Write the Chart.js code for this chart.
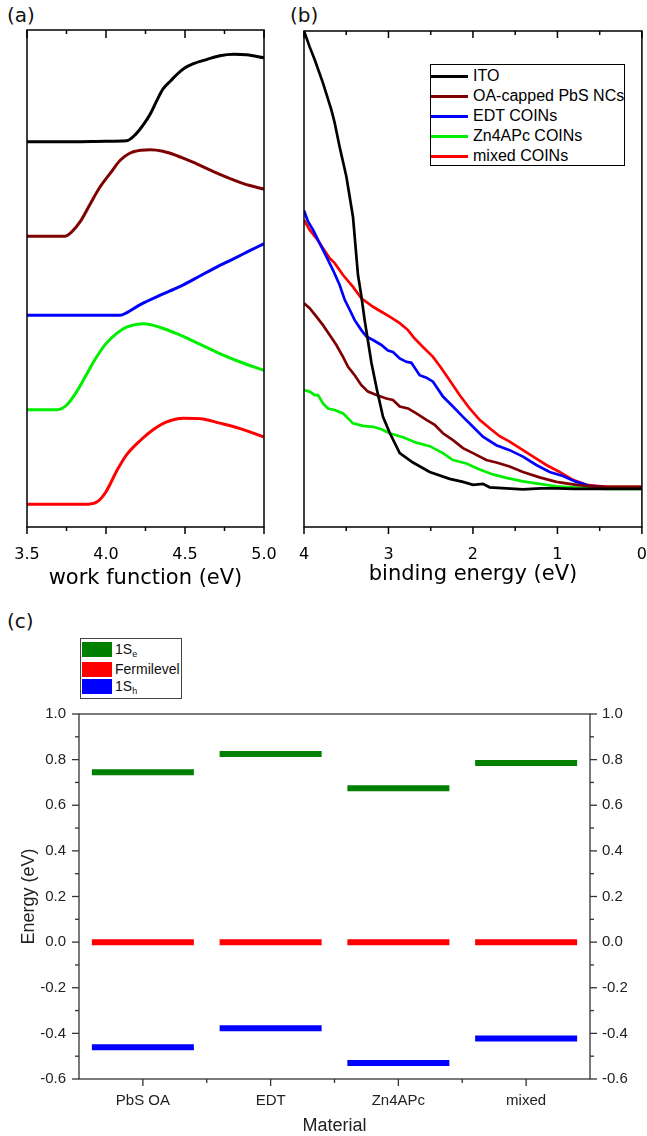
<!DOCTYPE html>
<html><head><meta charset="utf-8">
<script src="https://cdn.jsdelivr.net/npm/chart.js@4.4.1/dist/chart.umd.min.js"></script>
<style>
html,body{margin:0;padding:0;background:#fff}
body{width:647px;height:1136px;position:relative;overflow:hidden;font-family:"Liberation Sans",Arial,sans-serif}
canvas{position:absolute}
.plabel{position:absolute;font-family:"DejaVu Sans";font-size:20px;line-height:20px;color:#111}
#legB{position:absolute;left:430px;top:64px;width:193px;height:100px;border:1.3px solid #000;background:#fff}
#legB .row{position:absolute;left:0;height:20px;width:100%}
#legB .ln{position:absolute;left:0;top:9px;width:37px;height:3px}
#legB .tx{position:absolute;left:42px;top:0;font-size:16px;line-height:20px;color:#000;white-space:nowrap}
#legC{position:absolute;left:80px;top:638px;width:100px;height:59px;border:1px solid #444;background:#fff}
#legC .row{position:absolute;left:0;height:16px;width:100%}
#legC .sw{position:absolute;left:1px;top:0;width:30px;height:15px}
#legC .tx{position:absolute;left:34px;top:-1px;font-size:14px;line-height:16px;color:#111;white-space:nowrap}
#legC sub{font-size:9px;vertical-align:-3px;line-height:0}
</style></head>
<body>
<div class="plabel" style="left:7px;top:5px">(a)</div>
<div class="plabel" style="left:290px;top:5px">(b)</div>
<div class="plabel" style="left:7px;top:611px">(c)</div>
<canvas id="ca" width="290" height="592" style="left:0;top:0"></canvas>
<canvas id="cb" width="357" height="592" style="left:290px;top:0"></canvas>
<canvas id="cc" width="647" height="536" style="left:0;top:600px"></canvas>
<div id="legB"></div>
<div id="legC"></div>
<script>
// ---------- shared sample names / colours ----------
const sampleNames = ['ITO', 'OA-capped PbS NCs', 'EDT COINs', 'Zn4APc COINs', 'mixed COINs'];
const sampleColors = ['#000000', '#7f0000', '#0000ff', '#00ee00', '#ff0000'];

// ---------- panel (a): work function (offset curves, arb. units) ----------
const wfTicks = [3.5, 4.0, 4.5, 5.0];
const wfMinor = [3.75, 4.25, 4.75];
const wfITO_x = [3.5, 3.8, 4.0, 4.13, 4.19, 4.24, 4.28, 4.32, 4.36, 4.41, 4.45, 4.5, 4.55, 4.64, 4.72, 4.81, 4.89, 5.0];
const wfITO_y = [77.5, 77.5, 77.6, 77.7, 79.1, 81.1, 83.1, 85.7, 88.1, 89.8, 91.1, 92.4, 93.2, 94.1, 94.8, 95.1, 95.0, 94.4];
const wfOA_x = [3.5, 3.74, 3.78, 3.84, 3.9, 3.96, 4.03, 4.09, 4.15, 4.22, 4.28, 4.36, 4.45, 4.55, 4.68, 4.81, 4.91, 5.0];
const wfOA_y = [58.5, 58.5, 59.3, 61.6, 65.0, 68.3, 71.3, 73.8, 75.2, 75.8, 75.9, 75.6, 74.7, 73.4, 71.5, 69.8, 68.7, 68.0];
const wfEDT_x = [3.5, 4.09, 4.13, 4.22, 4.34, 4.47, 4.6, 4.7, 4.81, 4.91, 5.0];
const wfEDT_y = [42.6, 42.6, 43.1, 44.8, 46.6, 48.4, 50.6, 52.3, 54.0, 55.6, 57.0];
const wfZn_x = [3.5, 3.69, 3.75, 3.82, 3.88, 3.94, 4.0, 4.07, 4.13, 4.24, 4.34, 4.47, 4.6, 4.72, 4.85, 5.0];
const wfZn_y = [23.6, 23.6, 24.5, 27.5, 30.9, 34.2, 36.9, 39.0, 40.2, 40.9, 40.2, 38.6, 36.7, 34.9, 33.2, 31.5];
const wfMix_x = [3.5, 3.89, 3.95, 4.0, 4.07, 4.13, 4.22, 4.3, 4.38, 4.49, 4.6, 4.72, 4.85, 5.0];
const wfMix_y = [4.6, 4.6, 5.2, 7.1, 11.4, 14.5, 17.5, 19.6, 21.1, 21.9, 21.8, 20.9, 19.8, 18.1];

// ---------- panel (b): binding energy (arb. units) ----------
const beTicks = [4, 3, 2, 1, 0];
const beMinor = [3.5, 2.5, 1.5, 0.5];
const beITO_x = [4.0, 3.933, 3.873, 3.775, 3.676, 3.637, 3.578, 3.498, 3.42, 3.361, 3.323, 3.282, 3.202, 3.136, 3.065, 2.986, 2.867, 2.71, 2.512, 2.276, 2.118, 2.0, 1.94, 1.882, 1.802, 1.605, 1.408, 1.2, 1.009, 0.8, 0.619, 0.3, 0.0];
const beITO_y = [100, 96.8, 94.2, 89.5, 84.1, 81.5, 76.6, 70.6, 62.5, 50.8, 46.8, 41.7, 33.1, 27.6, 22.2, 19.0, 14.9, 13.0, 11.1, 9.7, 9.1, 8.5, 8.6, 8.7, 8.0, 7.8, 7.6, 7.8, 7.8, 7.7, 7.7, 7.7, 7.7];
const beOA_x = [4.0, 3.933, 3.853, 3.775, 3.696, 3.617, 3.538, 3.479, 3.4, 3.321, 3.243, 3.143, 3.025, 2.947, 2.867, 2.769, 2.67, 2.551, 2.453, 2.355, 2.237, 2.118, 2.0, 1.842, 1.723, 1.566, 1.408, 1.211, 1.013, 0.776, 0.54, 0.0];
const beOA_y = [45.1, 44.1, 42.4, 40.7, 38.7, 36.7, 34.3, 32.3, 30.6, 28.6, 27.3, 26.6, 25.9, 25.6, 24.3, 23.9, 22.9, 21.6, 20.6, 18.9, 17.5, 15.9, 14.9, 13.5, 13.0, 12.2, 11.1, 10.0, 9.1, 8.5, 8.1, 8.1];
const beEDT_x = [4.0, 3.953, 3.893, 3.814, 3.735, 3.657, 3.578, 3.518, 3.459, 3.4, 3.321, 3.262, 3.163, 3.084, 3.006, 2.947, 2.867, 2.788, 2.729, 2.631, 2.551, 2.473, 2.355, 2.237, 2.118, 2.0, 1.882, 1.723, 1.566, 1.408, 1.25, 1.092, 0.935, 0.776, 0.619, 0.421, 0.0];
const beEDT_y = [63.8, 61.6, 59.9, 57.2, 54.5, 51.8, 48.8, 45.8, 43.8, 41.7, 39.7, 38.4, 37.5, 36.7, 35.6, 35.3, 34.0, 33.3, 33.1, 30.6, 30.1, 29.3, 26.3, 24.3, 22.2, 20.2, 18.2, 16.5, 15.5, 14.2, 12.5, 11.1, 10.3, 9.1, 8.3, 8.0, 7.9];
const beZn_x = [4.0, 3.933, 3.873, 3.834, 3.775, 3.716, 3.637, 3.538, 3.42, 3.302, 3.183, 3.084, 2.986, 2.828, 2.67, 2.512, 2.355, 2.237, 2.078, 1.921, 1.763, 1.605, 1.408, 1.211, 1.013, 0.737, 0.421, 0.0];
const beZn_y = [27.6, 27.3, 26.6, 26.6, 24.9, 23.9, 23.6, 22.9, 20.9, 20.4, 20.2, 19.7, 18.9, 18.1, 17.0, 16.3, 14.9, 13.5, 12.8, 11.6, 10.6, 9.9, 9.2, 8.7, 8.2, 7.9, 7.7, 7.7];
const beMix_x = [4.0, 3.933, 3.853, 3.775, 3.696, 3.637, 3.538, 3.42, 3.321, 3.183, 3.084, 2.986, 2.867, 2.769, 2.69, 2.592, 2.473, 2.374, 2.276, 2.158, 2.039, 1.921, 1.802, 1.684, 1.566, 1.408, 1.25, 1.131, 0.974, 0.817, 0.658, 0.421, 0.0];
const beMix_y = [61.9, 59.9, 58.2, 56.2, 54.2, 53.2, 50.8, 48.4, 46.1, 44.4, 43.4, 42.4, 41.1, 39.7, 38.0, 36.3, 34.3, 32.0, 29.6, 26.6, 23.9, 21.6, 19.9, 18.3, 17.2, 15.5, 13.8, 12.5, 11.1, 9.5, 8.5, 8.1, 8.1];

// ---------- panel (c): energy levels ----------
const materials = ['PbS OA', 'EDT', 'Zn4APc', 'mixed'];
const level1Se = [0.745, 0.825, 0.675, 0.785];
const levelFermi = [0.0, 0.0, 0.0, 0.0];
const level1Sh = [-0.461, -0.378, -0.530, -0.422];
const levelNames = ['1S', 'Fermilevel', '1S'];
const levelSubs = ['e', '', 'h'];
const levelColors = ['#008000', '#ff0000', '#0000ff'];
const energyTicks = [-0.6, -0.4, -0.2, 0.0, 0.2, 0.4, 0.6, 0.8, 1.0];
const energyMinor = [-0.5, -0.3, -0.1, 0.1, 0.3, 0.5, 0.7, 0.9];
const materialMinor = [0.5, 1.5, 2.5];

// ---------- helpers ----------
function pts(xs, ys) { return xs.map((x, i) => ({x: x, y: ys[i]})); }

const frameTicks = {
  id: 'frameTicks',
  afterDraw(chart, args, opts) {
    const ctx = chart.ctx, a = chart.chartArea;
    ctx.save();
    ctx.strokeStyle = opts.color || '#000';
    ctx.lineWidth = opts.width || 1.5;
    ctx.lineCap = 'butt';
    ctx.strokeRect(a.left, a.top, a.right - a.left, a.bottom - a.top);
    (opts.specs || []).forEach(sp => {
      const sc = chart.scales[sp.scale];
      const draw = (v, len) => {
        const p = sc.getPixelForValue(v);
        ctx.beginPath();
        if (sp.side === 'bottom') { ctx.moveTo(p, a.bottom); ctx.lineTo(p, a.bottom + (sp.dir === 'out' ? len : -len)); }
        if (sp.side === 'top') { ctx.moveTo(p, a.top); ctx.lineTo(p, a.top + (sp.dir === 'out' ? -len : len)); }
        if (sp.side === 'left') { ctx.moveTo(a.left, p); ctx.lineTo(a.left + (sp.dir === 'out' ? -len : len), p); }
        if (sp.side === 'right') { ctx.moveTo(a.right, p); ctx.lineTo(a.right + (sp.dir === 'out' ? len : -len), p); }
        ctx.stroke();
      };
      sp.major.forEach(v => draw(v, sp.majorLen));
      sp.minor.forEach(v => draw(v, sp.minorLen));
    });
    ctx.restore();
  }
};

const dv = 'DejaVu Sans';
const lib = 'Liberation Sans';
// hidden grid; tickLength only used as label offset (real ticks drawn by frameTicks)
const hiddenGrid = len => ({display: false, drawTicks: true, tickLength: len});

// ---------- chart (a) ----------
const wfXs = [wfITO_x, wfOA_x, wfEDT_x, wfZn_x, wfMix_x];
const wfYs = [wfITO_y, wfOA_y, wfEDT_y, wfZn_y, wfMix_y];
new Chart(document.getElementById('ca'), {
  type: 'line',
  data: {datasets: sampleNames.map((n, i) => ({
    label: n, data: pts(wfXs[i], wfYs[i]), borderColor: sampleColors[i], borderWidth: 3,
    pointRadius: 0, cubicInterpolationMode: 'monotone', fill: false
  }))},
  options: {
    responsive: false, animation: false, devicePixelRatio: 1,
    layout: {padding: {left: 27, right: 26, top: 30, bottom: 0}},
    plugins: {legend: {display: false}, tooltip: {enabled: false},
      frameTicks: {color: '#000', width: 1.5, specs: [
        {scale: 'x', side: 'bottom', dir: 'out', major: wfTicks, minor: wfMinor, majorLen: 7, minorLen: 4},
        {scale: 'x', side: 'top', dir: 'in', major: wfTicks, minor: wfMinor, majorLen: 8, minorLen: 4}
      ]}},
    scales: {
      x: {type: 'linear', min: 3.5, max: 5.0,
        afterBuildTicks: s => { s.ticks = wfTicks.map(v => ({value: v})); },
        afterFit: s => { s.height = 65; },
        grid: hiddenGrid(18), border: {display: false},
        ticks: {font: {family: dv, size: 16}, color: '#000', padding: 0, maxRotation: 0, autoSkip: false,
          callback: v => Number(v).toFixed(1)},
        title: {display: true, text: 'work function (eV)', font: {family: dv, size: 21}, color: '#000', padding: {top: 0, bottom: 1}}
      },
      y: {display: false, min: 0, max: 100}
    }
  },
  plugins: [frameTicks]
});

// ---------- chart (b) ----------
const beXs = [beITO_x, beOA_x, beEDT_x, beZn_x, beMix_x];
const beYs = [beITO_y, beOA_y, beEDT_y, beZn_y, beMix_y];
new Chart(document.getElementById('cb'), {
  type: 'line',
  data: {datasets: sampleNames.map((n, i) => ({
    label: n, data: pts(beXs[i], beYs[i]), borderColor: sampleColors[i], borderWidth: 2.7,
    pointRadius: 0, tension: 0, fill: false
  }))},
  options: {
    responsive: false, animation: false, devicePixelRatio: 1,
    layout: {padding: {left: 14, right: 5, top: 31, bottom: 0}},
    plugins: {legend: {display: false}, tooltip: {enabled: false},
      frameTicks: {color: '#000', width: 1.5, specs: [
        {scale: 'x', side: 'bottom', dir: 'out', major: beTicks, minor: beMinor, majorLen: 7, minorLen: 4},
        {scale: 'x', side: 'top', dir: 'in', major: beTicks, minor: beMinor, majorLen: 7, minorLen: 4}
      ]}},
    scales: {
      x: {type: 'linear', min: 0, max: 4, reverse: true,
        afterBuildTicks: s => { s.ticks = beTicks.map(v => ({value: v})); },
        afterFit: s => { s.height = 65; },
        grid: hiddenGrid(18), border: {display: false},
        ticks: {font: {family: dv, size: 16}, color: '#000', padding: 0, maxRotation: 0, autoSkip: false,
          callback: v => String(v)},
        title: {display: true, text: 'binding energy (eV)', font: {family: dv, size: 21}, color: '#000', padding: {top: 0, bottom: 5}}
      },
      y: {display: false, min: 0, max: 100}
    }
  },
  plugins: [frameTicks]
});

// legend (b)
const legB = document.getElementById('legB');
sampleNames.forEach((n, i) => {
  const r = document.createElement('div'); r.className = 'row'; r.style.top = (1 + i * 20) + 'px';
  const l = document.createElement('div'); l.className = 'ln'; l.style.background = sampleColors[i];
  const t = document.createElement('div'); t.className = 'tx'; t.textContent = n;
  r.appendChild(l); r.appendChild(t); legB.appendChild(r);
});

// ---------- chart (c) ----------
const levelSets = [level1Se, levelFermi, level1Sh];
const yTickOpts = {font: {family: lib, size: 15}, color: '#222', autoSkip: false, callback: v => Number(v).toFixed(1)};
new Chart(document.getElementById('cc'), {
  type: 'line',
  data: {labels: materials, datasets: levelSets.map((d, i) => ({
    label: levelNames[i] + levelSubs[i], data: d, showLine: false,
    pointStyle: 'line', pointRadius: 51, pointHoverRadius: 51, pointBorderWidth: 6, pointHoverBorderWidth: 6,
    borderColor: levelColors[i], backgroundColor: levelColors[i]
  }))},
  options: {
    responsive: false, animation: false, devicePixelRatio: 1,
    layout: {padding: {left: 0, right: 0, top: 114, bottom: 0}},
    plugins: {legend: {display: false}, tooltip: {enabled: false},
      frameTicks: {color: '#333', width: 1.3, specs: [
        {scale: 'x', side: 'bottom', dir: 'out', major: [0, 1, 2, 3], minor: materialMinor, majorLen: 7, minorLen: 4},
        {scale: 'y', side: 'left', dir: 'out', major: energyTicks, minor: energyMinor, majorLen: 7, minorLen: 4},
        {scale: 'y2', side: 'right', dir: 'out', major: energyTicks, minor: energyMinor, majorLen: 7, minorLen: 4}
      ]}},
    scales: {
      x: {type: 'category', offset: true,
        afterFit: s => { s.height = 56; },
        grid: hiddenGrid(13), border: {display: false},
        ticks: {font: {family: lib, size: 15}, color: '#222', padding: 0, maxRotation: 0, autoSkip: false},
        title: {display: true, text: 'Material', font: {family: lib, size: 18, lineHeight: 1.05}, color: '#222', padding: {top: 0, bottom: 0}}
      },
      y: {position: 'left', min: -0.6, max: 1.0,
        afterBuildTicks: s => { s.ticks = energyTicks.map(v => ({value: v})); },
        afterFit: s => { s.width = 79; },
        grid: hiddenGrid(8), border: {display: false},
        ticks: Object.assign({padding: 5}, yTickOpts),
        title: {display: true, text: 'Energy (eV)', font: {family: lib, size: 18}, color: '#222', padding: {top: 18, bottom: 0}}
      },
      y2: {position: 'right', min: -0.6, max: 1.0,
        afterBuildTicks: s => { s.ticks = energyTicks.map(v => ({value: v})); },
        afterFit: s => { s.width = 57; },
        grid: hiddenGrid(8), border: {display: false},
        ticks: Object.assign({padding: 4}, yTickOpts)
      }
    }
  },
  plugins: [frameTicks]
});

// legend (c)
const legC = document.getElementById('legC');
levelNames.forEach((n, i) => {
  const r = document.createElement('div'); r.className = 'row'; r.style.top = [3, 23, 40][i] + 'px';
  const s = document.createElement('div'); s.className = 'sw'; s.style.background = levelColors[i];
  const t = document.createElement('div'); t.className = 'tx'; t.textContent = n;
  if (levelSubs[i]) { const sb = document.createElement('sub'); sb.textContent = levelSubs[i]; t.appendChild(sb); }
  r.appendChild(s); r.appendChild(t); legC.appendChild(r);
});
</script>
</body></html>
